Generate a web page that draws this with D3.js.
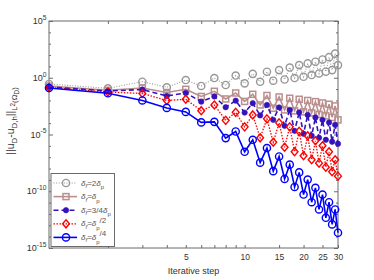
<!DOCTYPE html>
<html>
<head>
<meta charset="utf-8">
<script src="https://cdn.jsdelivr.net/npm/d3@7"></script>
<style>
  body { margin: 0; background: #fff; }
  svg { display: block; font-family: "Liberation Sans", Arial, sans-serif; }
</style>
</head>
<body>
<svg id="chart" width="374" height="280"></svg>
<script>
// iterations on the x axis
const steps = [1, 2, 3, 4, 5, 6, 7, 8, 9, 10, 11, 12, 13, 14, 15, 16, 17, 18, 19, 20,
  21, 22, 23, 24, 25, 26, 27, 28, 29, 30];

// error values per case
const errTwo = [0.28, 0.117, 0.45, 0.144, 0.63, 0.19, 0.94, 0.23, 1.56, 0.32,
  2.2, 0.44, 3.4, 0.55, 4.7, 0.70, 7.9, 0.94, 13, 1.22,
  18.3, 1.73, 26, 2.4, 41, 3.4, 65, 4.7, 133, 13];
const errOne = [0.187, 0.079, 0.125, 0.050, 0.096, 0.0224, 0.064, 0.0135, 0.0455, 0.0082,
  0.035, 0.0040, 0.0275, 0.00207, 0.0203, 0.00147, 0.0156, 0.0012, 0.0127, 0.00098,
  0.010, 0.0008, 0.00785, 0.00059, 0.006, 0.00044, 0.0046, 0.00032, 0.0033, 0.000195];
const errThreeQ = [0.153, 0.068, 0.092, 0.0248, 0.0455, 0.00785, 0.0224, 0.00253, 0.0096, 0.00085,
  0.0057, 0.00048, 0.0040, 0.000195, 0.00243, 5.8e-5, 0.00147, 2.1e-5, 0.00089, 1.15e-5,
  0.00053, 7.7e-6, 0.00032, 5.1e-6, 0.000195, 3.4e-6, 0.000117, 2.3e-6, 7.1e-5, 1.53e-6];
const errHalf = [0.138, 0.0557, 0.041, 0.010, 0.0127, 0.00125, 0.0040, 0.000176, 0.00089, 4.7e-5,
  0.00053, 5.1e-6, 0.00024, 2.07e-6, 0.000106, 7.5e-7, 4.7e-5, 3.0e-7, 1.9e-5, 1.35e-7,
  7.7e-6, 6.0e-8, 2.8e-6, 3.0e-8, 1.02e-6, 1.33e-8, 3.0e-7, 5.3e-9, 6.0e-8, 2.15e-9];
const errQuarter = [0.125, 0.0428, 0.010, 0.0022, 0.00098, 0.000117, 0.00013, 4.8e-6, 1.83e-5, 3.0e-7,
  3.4e-6, 3.3e-8, 6.4e-7, 5.9e-9, 1.17e-7, 1.22e-9, 2.2e-8, 2.4e-10, 4.6e-9, 5.1e-11,
  1.06e-9, 1.08e-11, 2.0e-10, 2.5e-12, 5.1e-11, 4.6e-13, 1.08e-11, 1.2e-13, 2.5e-12, 2.2e-14];

// axis ticks
const xTicks = [2, 3, 4, 5, 6, 7, 8, 9, 10, 15, 20, 25, 30];
const xLabels = [5, 10, 15, 20, 25, 30];
const yMajor = [1e-15, 1e-10, 1e-5, 1e0, 1e5];
const yMinor = [1e-14, 1e-13, 1e-12, 1e-11, 1e-9, 1e-8, 1e-7, 1e-6, 1e-4, 1e-3, 1e-2, 1e-1,
  1e1, 1e2, 1e3, 1e4];

const pLeft = 49, pRight = 338, pTop = 21, pBottom = 248;
const axisColor = '#6b6b6b', textColor = '#333';

const svg = d3.select('#chart');

const x = d3.scaleLog().domain([1, 30]).range([pLeft, pRight]);
const y = d3.scaleLog().domain([1e-15, 1e5]).range([pBottom, pTop]);

// text with sub/superscripts: [text, shift, sizeFactor, italic]
function rich(sel, parts, base) {
  let cur = 0;
  parts.forEach(p => {
    const off = (p[1] || 0) * base;
    sel.append('tspan')
      .attr('dy', off - cur)
      .attr('font-size', base * (p[2] || 1))
      .attr('font-style', p[3] ? 'italic' : null)
      .text(p[0]);
    cur = off;
  });
}

// axes (ticks pointing inward, like matlab)
function styleAxis(g) {
  g.select('.domain').remove();
  g.selectAll('line').attr('stroke', axisColor);
  g.selectAll('text').attr('fill', textColor).attr('font-size', 8.5)
    .attr('font-family', '"Liberation Sans", Arial, sans-serif');
}

svg.append('g')
  .attr('transform', `translate(0,${pBottom})`)
  .call(d3.axisBottom(x).tickValues(xTicks).tickSize(-3).tickSizeOuter(0).tickPadding(6)
    .tickFormat(d => xLabels.includes(d) ? d : ''))
  .call(styleAxis);
svg.append('g')
  .attr('transform', `translate(0,${pTop})`)
  .call(d3.axisTop(x).tickValues(xTicks).tickSize(-3).tickSizeOuter(0).tickFormat(''))
  .call(styleAxis);

[[d3.axisLeft, pLeft], [d3.axisRight, pRight]].forEach(([ax, pos]) => {
  svg.append('g').attr('transform', `translate(${pos},0)`)
    .call(ax(y).tickValues(yMinor).tickSize(-2).tickSizeOuter(0).tickFormat(''))
    .call(styleAxis);
  svg.append('g').attr('transform', `translate(${pos},0)`)
    .call(ax(y).tickValues(yMajor).tickSize(-4).tickSizeOuter(0).tickFormat(''))
    .call(styleAxis);
});

// y tick labels 10^n
yMajor.forEach(v => {
  const t = svg.append('text')
    .attr('x', pLeft - 2.5).attr('y', y(v) + 3)
    .attr('text-anchor', 'end').attr('fill', textColor);
  rich(t, [['10', 0, 1], [String(Math.round(Math.log10(v))), -0.45, 0.75]], 9);
});

svg.append('rect')
  .attr('x', pLeft).attr('y', pTop)
  .attr('width', pRight - pLeft).attr('height', pBottom - pTop)
  .attr('fill', 'none').attr('stroke', axisColor).attr('stroke-width', 1);

// axis titles
svg.append('text')
  .attr('x', (pLeft + pRight) / 2).attr('y', 274)
  .attr('text-anchor', 'middle').attr('font-size', 9).attr('fill', textColor)
  .text('Iterative step');

const yTitle = svg.append('text')
  .attr('transform', 'translate(14,121) rotate(-90)')
  .attr('text-anchor', 'middle').attr('fill', textColor);
rich(yTitle, [['||u', 0, 1], ['D', 0.3, 0.75], ['-u', 0, 1], ['D,h', 0.3, 0.75], ['||', 0, 1],
  ['L', 0.3, 0.75], ['2', 0.05, 0.6], ['(Ω', 0.3, 0.75], ['D', 0.5, 0.6], [')', 0.3, 0.75]], 10.5);

// series
const series = [
  { values: errTwo, color: '#979797', dash: '1,1.6', lw: 1.1, marker: 'circle',
    label: [['δ', 0, 1, 1], ['f', 0.3, 0.75, 1], ['=2', 0, 1], ['δ', 0, 1, 1], ['p', 0.45, 0.75]] },
  { values: errOne, color: '#bb8e8e', dash: null, lw: 1.6, marker: 'square',
    label: [['δ', 0, 1, 1], ['f', 0.3, 0.75, 1], ['=', 0, 1], ['δ', 0, 1, 1], ['p', 0.45, 0.75]] },
  { values: errThreeQ, color: '#3412bd', dash: '5,3', lw: 1.6, marker: 'dot',
    label: [['δ', 0, 1, 1], ['f', 0.3, 0.75, 1], ['=3/4', 0, 1], ['δ', 0, 1, 1], ['p', 0.45, 0.75]] },
  { values: errHalf, color: '#ff0000', dash: '1.5,1.5', lw: 1.3, marker: 'diamond',
    label: [['δ', 0, 1, 1], ['f', 0.3, 0.75, 1], ['=', 0, 1], ['δ', 0, 1, 1], ['p', 0.45, 0.75], ['/2', -0.45, 1]] },
  { values: errQuarter, color: '#0000ff', dash: null, lw: 1.6, marker: 'circle',
    label: [['δ', 0, 1, 1], ['f', 0.3, 0.75, 1], ['=', 0, 1], ['δ', 0, 1, 1], ['p', 0.45, 0.75], ['/4', -0.45, 1]] }
];

function drawMarker(g, type, color, cx, cy) {
  if (type === 'circle') {
    g.append('circle').attr('cx', cx).attr('cy', cy).attr('r', 3.6)
      .attr('fill', 'none').attr('stroke', color).attr('stroke-width', 1.4);
  } else if (type === 'dot') {
    g.append('circle').attr('cx', cx).attr('cy', cy).attr('r', 2.7)
      .attr('fill', color).attr('stroke', color).attr('stroke-width', 0.6);
  } else if (type === 'square') {
    g.append('rect').attr('x', cx - 3).attr('y', cy - 3).attr('width', 6).attr('height', 6)
      .attr('fill', 'none').attr('stroke', color).attr('stroke-width', 1.5);
  } else if (type === 'diamond') {
    g.append('path')
      .attr('d', `M${cx},${cy - 4}L${cx + 3.4},${cy}L${cx},${cy + 4}L${cx - 3.4},${cy}Z`)
      .attr('fill', 'none').attr('stroke', color).attr('stroke-width', 1.4);
  }
}

const line = d3.line().x(d => x(d[0])).y(d => y(d[1]));

series.forEach(s => {
  const pts = steps.map((st, i) => [st, s.values[i]]);
  const g = svg.append('g');
  g.append('path')
    .attr('d', line(pts))
    .attr('fill', 'none')
    .attr('stroke', s.color)
    .attr('stroke-width', s.lw)
    .attr('stroke-dasharray', s.dash);
  pts.forEach(p => drawMarker(g, s.marker, s.color, x(p[0]), y(p[1])));
});

// legend
const lg = svg.append('g');
lg.append('rect')
  .attr('x', 51).attr('y', 173.5).attr('width', 63.5).attr('height', 73)
  .attr('fill', '#fff').attr('stroke', axisColor).attr('stroke-width', 1);
series.forEach((s, i) => {
  const ly = 183 + i * 13.6;
  lg.append('line')
    .attr('x1', 53.5).attr('x2', 77).attr('y1', ly).attr('y2', ly)
    .attr('stroke', s.color).attr('stroke-width', s.lw)
    .attr('stroke-dasharray', s.dash);
  drawMarker(lg, s.marker, s.color, 66, ly);
  const t = lg.append('text').attr('x', 81).attr('y', ly + 2.5).attr('fill', '#555');
  rich(t, s.label, 8);
});
</script>
</body>
</html>
